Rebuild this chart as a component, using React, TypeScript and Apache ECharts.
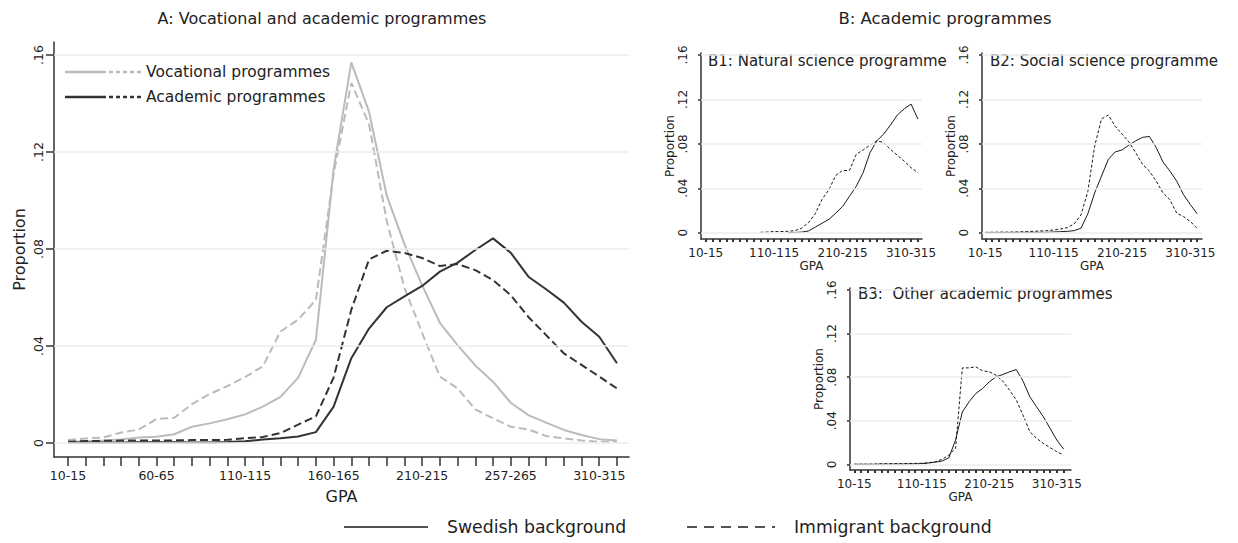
import React, { useEffect, useRef } from "react";
import * as echarts from "echarts";

const gpaBins = [
  "10-15", "20-25", "30-35", "40-45", "50-55", "60-65", "70-75", "80-85",
  "90-95", "100-105", "110-115", "120-125", "130-135", "140-145", "150-155",
  "160-165", "170-175", "180-185", "190-195", "200-205", "210-215", "220-225",
  "230-235", "240-245", "250-256", "257-265", "270-275", "280-285", "290-295",
  "300-305", "310-315", "320",
];

const yTicks = [0, 0.04, 0.08, 0.12, 0.16];
const mainLabelIdx = [0, 5, 10, 15, 20, 25, 30];
const smallLabelIdx = [0, 10, 20, 30];

// Panel A
const vocSwedish = [
  0.0005, 0.0007, 0.001, 0.0015, 0.0023, 0.0026, 0.0036, 0.0067, 0.0081, 0.0098,
  0.0118, 0.015, 0.019, 0.027, 0.0426, 0.113, 0.157, 0.1366, 0.102, 0.082,
  0.065, 0.0496, 0.0404, 0.032, 0.0253, 0.0166, 0.0115, 0.0084, 0.0054, 0.0033,
  0.0016, 0.001,
];
const vocImmigrant = [
  0.0012, 0.0019, 0.0023, 0.0043, 0.0056, 0.0099, 0.0104, 0.016, 0.0202, 0.0235,
  0.0272, 0.0316, 0.046, 0.0509, 0.059, 0.111, 0.1485, 0.1315, 0.0915, 0.064,
  0.0454, 0.0274, 0.0225, 0.0139, 0.0102, 0.0067, 0.0056, 0.0029, 0.0019, 0.001,
  0.0005, 0.0005,
];
const acaSwedish = [
  0.0002, 0.0002, 0.0002, 0.0002, 0.0003, 0.0003, 0.0003, 0.0002, 0.0002, 0.0004,
  0.0007, 0.0014, 0.002, 0.0027, 0.0045, 0.015, 0.035, 0.0472, 0.056, 0.0605,
  0.0648, 0.0707, 0.0744, 0.0796, 0.0844, 0.0785, 0.0686, 0.0634, 0.0579, 0.05,
  0.0438, 0.0329,
];
const acaImmigrant = [
  0.0005, 0.0008, 0.0009, 0.001, 0.001, 0.001, 0.0011, 0.0012, 0.0012, 0.0013,
  0.002, 0.0025, 0.0041, 0.0076, 0.011, 0.027, 0.055, 0.0757, 0.0793, 0.0784,
  0.0763, 0.073, 0.0738, 0.0713, 0.0672, 0.061, 0.052, 0.0445, 0.037, 0.0322,
  0.0274, 0.0225,
];

// Panel B1: Natural science
const b1Swedish = [
  null, null, null, null, null, null, null, null, null, null,
  null, null, 0.0, 0.0002, 0.0005, 0.0015, 0.005, 0.0085, 0.012, 0.0176,
  0.0236, 0.0327, 0.0418, 0.054, 0.072, 0.0827, 0.0888, 0.097, 0.106, 0.1115,
  0.1158, 0.1024,
];
const b1Immigrant = [
  null, null, null, null, null, null, null, null, 0.0003, 0.0006,
  0.001, 0.001, 0.0012, 0.0018, 0.004, 0.009, 0.017, 0.03, 0.0388, 0.0515,
  0.056, 0.056, 0.0706, 0.0745, 0.0788, 0.0827, 0.0812, 0.075, 0.0697, 0.0645,
  0.0585, 0.054,
];

// Panel B2: Social science
const b2Swedish = [
  0.0001, 0.0001, 0.0001, 0.0001, 0.0002, 0.0002, 0.0002, 0.0002, 0.0003, 0.0003,
  0.0006, 0.0009, 0.0012, 0.0018, 0.004, 0.017, 0.0358, 0.051, 0.066, 0.0727,
  0.0745, 0.0788, 0.0827, 0.0858, 0.0867, 0.0767, 0.0636, 0.0555, 0.0464, 0.0342,
  0.0252, 0.017,
];
const b2Immigrant = [
  0.0003, 0.0004, 0.0005, 0.0005, 0.0006, 0.0007, 0.001, 0.0012, 0.0015, 0.0018,
  0.0024, 0.0033, 0.0045, 0.0079, 0.016, 0.037, 0.078, 0.1024, 0.106, 0.0958,
  0.0888, 0.0818, 0.0721, 0.0615, 0.0555, 0.0464, 0.0358, 0.0297, 0.0176, 0.0145,
  0.01, 0.0039,
];

// Panel B3: Other academic
const b3Swedish = [
  0, 0, 0, 0, 0.0001, 0.0001, 0.0002, 0.0002, 0.0003, 0.0004,
  0.0006, 0.0012, 0.002, 0.003, 0.006, 0.0223, 0.048, 0.0574, 0.065, 0.0696,
  0.0757, 0.0803, 0.0824, 0.0849, 0.087, 0.0763, 0.062, 0.0528, 0.0437, 0.033,
  0.0223, 0.014,
];
const b3Immigrant = [
  0.0001, 0.0001, 0.0001, 0.0002, 0.0006, 0.0006, 0.0007, 0.0007, 0.0008, 0.0009,
  0.001, 0.0015, 0.0024, 0.0046, 0.0085, 0.0147, 0.0885, 0.0885, 0.0895, 0.0858,
  0.0849, 0.0818, 0.0763, 0.068, 0.059, 0.045, 0.03, 0.0238, 0.0192, 0.0153,
  0.0116, 0.0085,
];

const FONT = "DejaVu Sans";
const TXT = "#222222";
const AXIS = "#333333";
const GRIDC = "#ececec";
const allIdx = gpaBins.map((_, i) => i);

const pairs = (arr: (number | null)[]) =>
  arr.map((v, i) => [i, v]).filter((p) => p[1] !== null);

const yFmt = (v: number) => (Math.abs(v) < 1e-9 ? "0" : v.toFixed(2).replace(/^0/, ""));

function xAxisCfg(gi: number, min: number, max: number, big: boolean) {
  return {
    type: "value",
    gridIndex: gi,
    min,
    max,
    axisLine: { show: true, onZero: false, lineStyle: { color: AXIS, width: 1.5 } },
    axisTick: {
      show: true,
      customValues: allIdx,
      length: big ? 9 : 3,
      lineStyle: { color: AXIS, width: big ? 1.5 : 2 },
    },
    axisLabel: {
      customValues: big ? mainLabelIdx : smallLabelIdx,
      formatter: (v: number) => gpaBins[Math.round(v)] ?? "",
      fontSize: big ? 12.5 : 12,
      fontFamily: FONT,
      color: TXT,
      margin: big ? 12 : 8,
    },
    splitLine: { show: false },
    name: "GPA",
    nameLocation: "middle",
    nameGap: big ? 31 : 18,
    nameTextStyle: { fontFamily: FONT, fontSize: big ? 16 : 12, color: TXT },
  };
}

function yAxisCfg(gi: number, min: number, max: number, big: boolean) {
  return {
    type: "value",
    gridIndex: gi,
    min,
    max,
    axisLine: { show: true, onZero: false, lineStyle: { color: AXIS, width: 1.5 } },
    axisTick: {
      show: true,
      customValues: yTicks,
      length: big ? 8 : 3,
      lineStyle: { color: AXIS, width: 1.5 },
    },
    axisLabel: {
      customValues: yTicks,
      formatter: yFmt,
      rotate: 90,
      fontSize: big ? 12.5 : 12,
      fontFamily: FONT,
      color: TXT,
      margin: big ? 9 : 12,
    },
    splitLine: { show: false },
    name: "Proportion",
    nameLocation: "middle",
    nameGap: big ? 27 : 23,
    nameTextStyle: { fontFamily: FONT, fontSize: big ? 16 : 12, color: TXT },
  };
}

function gridSeries(gi: number) {
  return {
    type: "line",
    xAxisIndex: gi,
    yAxisIndex: gi,
    data: [[0, 0]],
    symbol: "none",
    lineStyle: { width: 0, opacity: 0 },
    silent: true,
    z: 1,
    markLine: {
      silent: true,
      symbol: ["none", "none"],
      label: { show: false },
      lineStyle: { color: GRIDC, width: 1.5, type: "solid" },
      data: yTicks.map((v) => ({ yAxis: v })),
    },
  };
}

function lineSeries(
  gi: number,
  name: string,
  arr: (number | null)[],
  color: string,
  dashed: boolean,
  width: number,
  dash: number[]
) {
  return {
    type: "line",
    name,
    xAxisIndex: gi,
    yAxisIndex: gi,
    data: pairs(arr),
    symbol: "none",
    z: 3,
    lineStyle: { color, width, type: dashed ? dash : "solid" },
  };
}

export default function App() {
  const ref = useRef<HTMLDivElement>(null);

  useEffect(() => {
    document.body.style.margin = "0";
    if (!ref.current) return;
    const chart = echarts.init(ref.current, null, { renderer: "svg" });
    const GRAY = "#bbbbbb";
    const DARK = "#333333";
    const BLK = "#1a1a1a";

    const option: any = {
      animation: false,
      backgroundColor: "#ffffff",
      grid: [
        { left: 54, top: 42, width: 575, height: 415 },
        { left: 701, top: 53, width: 221, height: 186 },
        { left: 982, top: 53, width: 220, height: 186 },
        { left: 850, top: 288, width: 221, height: 182 },
      ],
      xAxis: [
        xAxisCfg(0, -0.79, 31.68, true),
        xAxisCfg(1, -0.69, 31.6, false),
        xAxisCfg(2, -0.48, 31.7, false),
        xAxisCfg(3, -0.64, 32.1, false),
      ],
      yAxis: [
        yAxisCfg(0, -0.00577, 0.1654, true),
        yAxisCfg(1, -0.0057, 0.1618, false),
        yAxisCfg(2, -0.0057, 0.1618, false),
        yAxisCfg(3, -0.0052, 0.1618, false),
      ],
      series: [
        gridSeries(0),
        gridSeries(1),
        gridSeries(2),
        gridSeries(3),
        lineSeries(0, "Vocational, Swedish", vocSwedish, GRAY, false, 2, [8, 4]),
        lineSeries(0, "Vocational, Immigrant", vocImmigrant, GRAY, true, 2, [8, 4]),
        lineSeries(0, "Academic, Swedish", acaSwedish, DARK, false, 2, [8, 4]),
        lineSeries(0, "Academic, Immigrant", acaImmigrant, DARK, true, 2, [8, 4]),
        lineSeries(1, "Natural science, Swedish", b1Swedish, BLK, false, 1, [3, 2]),
        lineSeries(1, "Natural science, Immigrant", b1Immigrant, BLK, true, 1, [3, 2]),
        lineSeries(2, "Social science, Swedish", b2Swedish, BLK, false, 1, [3, 2]),
        lineSeries(2, "Social science, Immigrant", b2Immigrant, BLK, true, 1, [3, 2]),
        lineSeries(3, "Other academic, Swedish", b3Swedish, BLK, false, 1, [3, 2]),
        lineSeries(3, "Other academic, Immigrant", b3Immigrant, BLK, true, 1, [3, 2]),
      ],
      graphic: [
        {
          type: "text",
          x: 322,
          y: 18,
          style: {
            text: "A: Vocational and academic programmes",
            textAlign: "center",
            textVerticalAlign: "middle",
            fontFamily: FONT,
            fontSize: 16,
            fill: TXT,
          },
        },
        {
          type: "text",
          x: 945,
          y: 18,
          style: {
            text: "B: Academic programmes",
            textAlign: "center",
            textVerticalAlign: "middle",
            fontFamily: FONT,
            fontSize: 16.5,
            fill: TXT,
          },
        },
        {
          type: "text",
          x: 708,
          y: 61,
          style: {
            text: "B1: Natural science programme",
            textVerticalAlign: "middle",
            fontFamily: FONT,
            fontSize: 15,
            fill: TXT,
          },
        },
        {
          type: "text",
          x: 990,
          y: 61,
          style: {
            text: "B2: Social science programme",
            textVerticalAlign: "middle",
            fontFamily: FONT,
            fontSize: 15,
            fill: TXT,
          },
        },
        {
          type: "text",
          x: 858,
          y: 294,
          style: {
            text: "B3:  Other academic programmes",
            textVerticalAlign: "middle",
            fontFamily: FONT,
            fontSize: 15,
            fill: TXT,
          },
        },
        // Panel A legend
        { type: "line", shape: { x1: 65, y1: 72, x2: 102, y2: 72 }, style: { stroke: GRAY, lineWidth: 2.5 } },
        { type: "line", shape: { x1: 102, y1: 72, x2: 141, y2: 72 }, style: { stroke: GRAY, lineWidth: 2.5, lineDash: [4, 3] } },
        {
          type: "text",
          x: 146,
          y: 72,
          style: { text: "Vocational programmes", textVerticalAlign: "middle", fontFamily: FONT, fontSize: 15.5, fill: TXT },
        },
        { type: "line", shape: { x1: 65, y1: 97, x2: 102, y2: 97 }, style: { stroke: DARK, lineWidth: 2.5 } },
        { type: "line", shape: { x1: 102, y1: 97, x2: 141, y2: 97 }, style: { stroke: DARK, lineWidth: 2.5, lineDash: [4, 3] } },
        {
          type: "text",
          x: 146,
          y: 97,
          style: { text: "Academic programmes", textVerticalAlign: "middle", fontFamily: FONT, fontSize: 15.5, fill: TXT },
        },
        // Bottom legend
        { type: "line", shape: { x1: 344, y1: 527, x2: 428, y2: 527 }, style: { stroke: BLK, lineWidth: 1.5 } },
        {
          type: "text",
          x: 447,
          y: 527,
          style: { text: "Swedish background", textVerticalAlign: "middle", fontFamily: FONT, fontSize: 17.3, fill: TXT },
        },
        { type: "line", shape: { x1: 687, y1: 527, x2: 775, y2: 527 }, style: { stroke: BLK, lineWidth: 1.5, lineDash: [10, 7] } },
        {
          type: "text",
          x: 794,
          y: 527,
          style: { text: "Immigrant background", textVerticalAlign: "middle", fontFamily: FONT, fontSize: 17.3, fill: TXT },
        },
      ],
    };

    chart.setOption(option);
    return () => chart.dispose();
  }, []);

  return <div ref={ref} style={{ width: 1238, height: 543, background: "#fff" }} />;
}
